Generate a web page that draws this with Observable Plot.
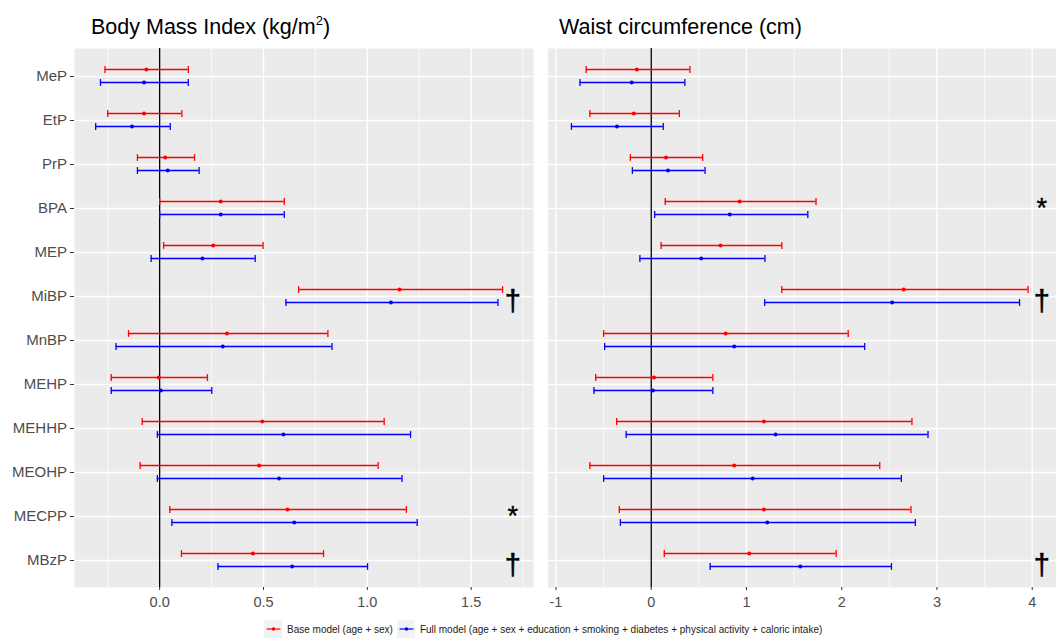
<!DOCTYPE html>
<html><head><meta charset="utf-8">
<script src="https://cdn.jsdelivr.net/npm/d3@7"></script>
<script src="https://cdn.jsdelivr.net/npm/@observablehq/plot@0.6"></script>
<style>
html,body{margin:0;padding:0;background:#fff;overflow:hidden}
#wrap{position:relative;width:1056px;height:638px;overflow:hidden;font-family:"Liberation Sans",Arial,sans-serif}
.title{position:absolute;top:17px;font-size:21.5px;line-height:21.5px;color:#000;white-space:nowrap}
.title sup{font-size:13px;vertical-align:0;position:relative;top:-9px}
.panel{position:absolute;top:0}
#legend{position:absolute;left:264px;top:620px;height:18px;display:flex;align-items:center;font-size:10px;color:#1a1a1a;white-space:nowrap}
#legend .item{display:flex;align-items:center}
#legend .lab{margin-left:5px;margin-right:4px}
</style></head><body>
<div id="wrap">
  <div class="title" style="left:91px">Body Mass Index (kg/m<sup>2</sup>)</div>
  <div class="title" style="left:559px">Waist circumference (cm)</div>
  <div id="left" class="panel" style="left:0"></div>
  <div id="right" class="panel" style="left:540px"></div>
  <div id="legend"></div>
</div>
<script>
// ---------- data ----------
const categories = ["MeP","EtP","PrP","BPA","MEP","MiBP","MnBP","MEHP","MEHHP","MEOHP","MECPP","MBzP"];
const models = ["Base model (age + sex)", "Full model (age + sex + education + smoking + diabetes + physical activity + caloric intake)"];
const modelColors = ["#FF0000", "#0000FF"];

const bmiBaseEst = [-0.064, -0.075, 0.027, 0.294, 0.258, 1.155, 0.324, -0.004, 0.494, 0.479, 0.616, 0.449];
const bmiBaseLo  = [-0.263, -0.250, -0.107, 0.000, 0.019, 0.669, -0.150, -0.233, -0.084, -0.094, 0.049, 0.105];
const bmiBaseHi  = [0.138, 0.107, 0.168, 0.600, 0.498, 1.651, 0.810, 0.230, 1.081, 1.052, 1.188, 0.789];
const bmiFullEst = [-0.075, -0.133, 0.039, 0.294, 0.206, 1.114, 0.304, 0.006, 0.596, 0.575, 0.648, 0.638];
const bmiFullLo  = [-0.285, -0.308, -0.107, 0.000, -0.041, 0.608, -0.210, -0.233, -0.011, -0.011, 0.059, 0.281];
const bmiFullHi  = [0.138, 0.051, 0.190, 0.600, 0.460, 1.629, 0.830, 0.251, 1.208, 1.167, 1.240, 1.001];

const waistBaseEst = [-0.151, -0.183, 0.155, 0.928, 0.727, 2.651, 0.781, 0.029, 1.183, 0.871, 1.183, 1.029];
const waistBaseLo  = [-0.683, -0.644, -0.219, 0.147, 0.104, 1.371, -0.500, -0.583, -0.363, -0.644, -0.335, 0.137];
const waistBaseHi  = [0.406, 0.295, 0.540, 1.730, 1.371, 3.957, 2.068, 0.647, 2.737, 2.399, 2.727, 1.942];
const waistFullEst = [-0.205, -0.360, 0.176, 0.824, 0.525, 2.529, 0.871, 0.018, 1.306, 1.065, 1.219, 1.565];
const waistFullLo  = [-0.748, -0.838, -0.198, 0.036, -0.119, 1.191, -0.489, -0.601, -0.263, -0.500, -0.324, 0.619];
const waistFullHi  = [0.353, 0.126, 0.565, 1.644, 1.194, 3.867, 2.241, 0.647, 2.906, 2.626, 2.773, 2.522];

const bmiSigCats = ["MiBP", "MECPP", "MBzP"];
const bmiSigSyms = ["\u2020", "*", "\u2020"];
const bmiSigX = 1.7;
const waistSigCats = ["BPA", "MiBP", "MBzP"];
const waistSigSyms = ["*", "\u2020", "\u2020"];
const waistSigX = 4.1;

const bmiMajorTicks = [0, 0.5, 1, 1.5];
const bmiMinorTicks = [-0.25, 0.25, 0.75, 1.25, 1.75];
const waistMajorTicks = [-1, 0, 1, 2, 3, 4];
const waistMinorTicks = [-0.5, 0.5, 1.5, 2.5, 3.5];

// ---------- helpers ----------
const rows = (est, lo, hi) => categories.map((c, i) => ({cat: c, est: est[i], lo: lo[i], hi: hi[i]}));
const sigRows = (cats, syms) => cats.map((c, i) => ({cat: c, sym: syms[i]}));
const capSymbol = {draw(ctx, size) { const h = Math.sqrt(size / Math.PI); ctx.moveTo(0, -h); ctx.lineTo(0, h); }};
const FONT = '"Liberation Sans", Arial, sans-serif';
const modelDy = [-7, 6];

function panel({series, domain, majors, minors, fmt, sig, sigX, width, marginLeft, marginRight, showY}) {
  const marks = [
    Plot.frame({fill: "#EBEBEB", stroke: "none"}),
    Plot.gridX(minors, {stroke: "#fff", strokeOpacity: 1, strokeWidth: 0.7}),
    Plot.gridX(majors, {stroke: "#fff", strokeOpacity: 1, strokeWidth: 1.4}),
    Plot.gridY(categories, {stroke: "#fff", strokeOpacity: 1, strokeWidth: 1.4}),
    Plot.ruleX([0], {stroke: "#000", strokeWidth: 1.3})
  ];
  series.forEach((d, k) => {
    const color = modelColors[k], dy = modelDy[k];
    marks.push(
      Plot.ruleY(d, {y: "cat", x1: "lo", x2: "hi", stroke: color, strokeWidth: 1.3, dy}),
      Plot.dot(d, {x: "lo", y: "cat", symbol: capSymbol, r: 3.4, fill: "none", stroke: color, strokeWidth: 1.3, dy}),
      Plot.dot(d, {x: "hi", y: "cat", symbol: capSymbol, r: 3.4, fill: "none", stroke: color, strokeWidth: 1.3, dy}),
      Plot.dot(d, {x: "est", y: "cat", r: 2, fill: color, stroke: "none", dy})
    );
  });
  const daggers = sig.filter(d => d.sym !== "*");
  const stars = sig.filter(d => d.sym === "*");
  marks.push(
    Plot.text(daggers, {x: () => sigX, y: "cat", text: "sym", fontSize: 29, fill: "#000", stroke: "#000", strokeWidth: 0.5, fontFamily: FONT, lineAnchor: "middle", textAnchor: "middle", dy: 5}),
    Plot.text(stars, {x: () => sigX, y: "cat", text: "sym", fontSize: 27, fill: "#000", stroke: "#000", strokeWidth: 0.4, fontFamily: FONT, lineAnchor: "middle", textAnchor: "middle", dy: 0}),
    Plot.axisX(majors, {tickSize: 3, tickPadding: 6, fontSize: 14.5, stroke: "#333", color: "#4D4D4D", fill: "#4D4D4D", tickFormat: fmt, label: null})
  );
  if (showY) marks.push(Plot.axisY({tickSize: 4, tickPadding: 3.5, fontSize: 15, stroke: "#333", color: "#4D4D4D", fill: "#4D4D4D", label: null}));
  return Plot.plot({
    width, height: 615,
    marginTop: 48, marginBottom: 28, marginLeft, marginRight,
    x: {domain, label: null},
    y: {type: "point", domain: categories, padding: 0.6, label: null, axis: showY ? undefined : null},
    style: {fontFamily: FONT, background: "transparent", overflow: "visible"},
    marks
  });
}

document.getElementById("left").append(panel({
  series: [rows(bmiBaseEst, bmiBaseLo, bmiBaseHi), rows(bmiFullEst, bmiFullLo, bmiFullHi)],
  domain: [-0.41, 1.8], majors: bmiMajorTicks, minors: bmiMinorTicks, fmt: d3.format(".1f"),
  sig: sigRows(bmiSigCats, bmiSigSyms), sigX: bmiSigX,
  width: 540, marginLeft: 74, marginRight: 7, showY: true
}));
document.getElementById("right").append(panel({
  series: [rows(waistBaseEst, waistBaseLo, waistBaseHi), rows(waistFullEst, waistFullLo, waistFullHi)],
  domain: [-1.085, 4.255], majors: waistMajorTicks, minors: waistMinorTicks, fmt: d => String(d),
  sig: sigRows(waistSigCats, waistSigSyms), sigX: waistSigX,
  width: 516, marginLeft: 7.4, marginRight: 0, showY: false
}));

// ---------- legend ----------
const legend = d3.select("#legend");
models.forEach((m, k) => {
  const item = legend.append("div").attr("class", "item");
  const svg = item.append("svg").attr("width", 18).attr("height", 18);
  svg.append("rect").attr("width", 18).attr("height", 18).attr("fill", "#F2F2F2");
  svg.append("line").attr("x1", 2.5).attr("x2", 16.5).attr("y1", 9).attr("y2", 9).attr("stroke", modelColors[k]).attr("stroke-width", 1.2);
  svg.append("circle").attr("cx", 9.5).attr("cy", 9).attr("r", 1.8).attr("fill", modelColors[k]);
  item.append("span").attr("class", "lab").text(m);
});
</script>
</body></html>
